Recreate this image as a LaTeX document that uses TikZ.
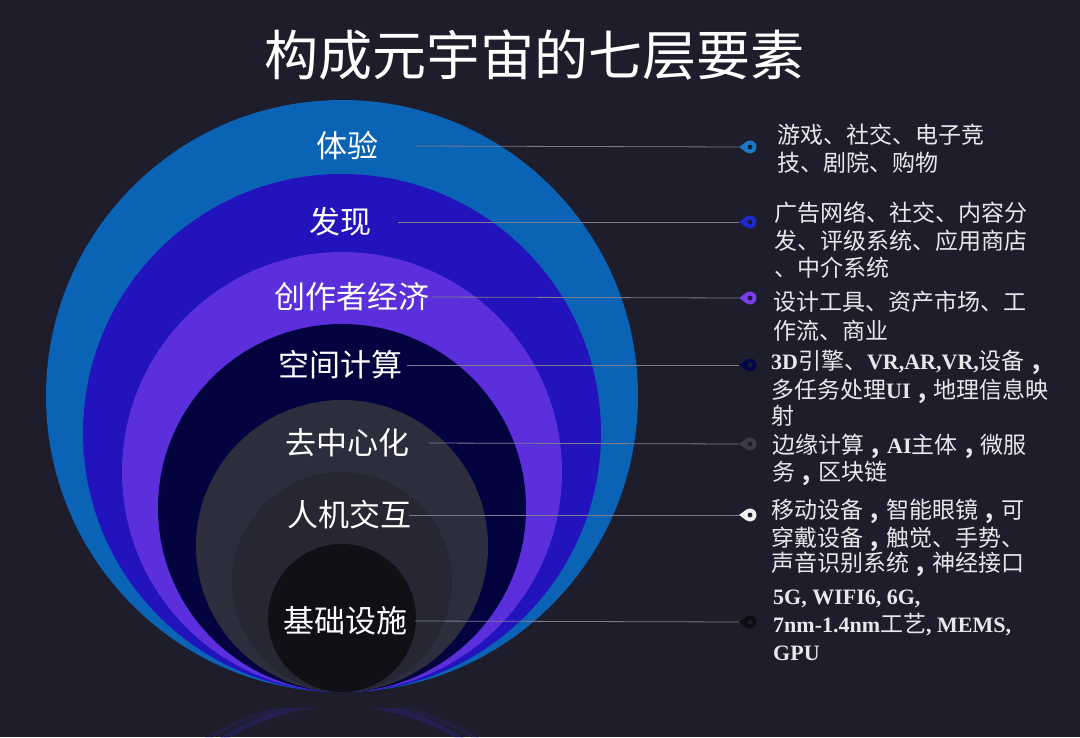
\documentclass[tikz,border=0pt]{standalone}
\usepackage{fontspec}
\setmainfont{Noto Sans CJK SC}
\newfontfamily\lserif{Liberation Serif}
\newcommand\sbf[1]{{\lserif\bfseries\fontsize{22}{28}\selectfont #1}}
\newcommand\cmm{\makebox[1em][c]{\bfseries,}}
\definecolor{bg}{HTML}{1E1D2B}
\definecolor{cA}{HTML}{0B63B5}
\definecolor{cB}{HTML}{2213BC}
\definecolor{cC}{HTML}{5B2FDC}
\definecolor{cD}{HTML}{03043F}
\definecolor{cE}{HTML}{2D2E3D}
\definecolor{cF}{HTML}{262732}
\definecolor{cG}{HTML}{101016}
\definecolor{pA}{HTML}{1A78C8}
\definecolor{pB}{HTML}{1E2AD0}
\definecolor{pC}{HTML}{7A3EE8}
\definecolor{pD}{HTML}{05064A}
\definecolor{pE}{HTML}{3A3A48}
\definecolor{pF}{HTML}{F0F0F0}
\definecolor{pG}{HTML}{0C0C12}
\definecolor{conncol}{HTML}{7C7C8E}
\definecolor{txt}{HTML}{E8E8EC}
\definecolor{refl}{HTML}{3A2CC0}
\tikzset{
  layerlabel/.style={text=white, inner sep=0pt, font=\fontsize{31}{36}\selectfont},
  righttext/.style={text=txt, inner sep=0pt, anchor=base west, font=\fontsize{23}{28}\selectfont},
  conn/.style={draw=conncol, line width=0.8pt},
  pinhole/.style={fill=bg},
}
\newcommand\mkpin[2]{%
  \fill[#2] ($(#1)+(-11,0)$) -- ($(#1)+(126.2:6.5pt)$) arc[start angle=126.2, end angle=-126.2, radius=6.5pt] -- cycle;
  \fill[pinhole] (#1) circle (2.4pt);}
\usetikzlibrary{calc}
\begin{document}
\begin{tikzpicture}[x=1pt,y=-1pt]
\fill[bg] (0,0) rectangle (1080,737);
\useasboundingbox (0,0) rectangle (1080,737);
% faint reflection
\begin{scope}
\clip (0,708) rectangle (1080,737);
\draw[line width=5pt, draw=refl, opacity=.25] (342,924) circle (220pt);
\draw[line width=4pt, draw=refl, opacity=.15] (342,960) circle (259pt);
\end{scope}
% nested layers
\fill[cA] (342,396) circle (296pt);
\fill[cB] (342,433) circle (259pt);
\fill[cC] (342,472) circle (220pt);
\fill[cD] (342,508) circle (184pt);
\fill[cE] (342,546) circle (146pt);
\fill[cF] (342,582) circle (110pt);
\fill[cG] (342,618) circle (74pt);
% title
\node[text=white, font=\fontsize{54}{60}\selectfont] (title) at (534,55) {构成元宇宙的七层要素};
% layer labels
\node[layerlabel] (l1) at (347,146) {体验};
\node[layerlabel] (l2) at (340,222) {发现};
\node[layerlabel] (l3) at (352,297) {创作者经济};
\node[layerlabel] (l4) at (340,365) {空间计算};
\node[layerlabel] (l5) at (347,443) {去中心化};
\node[layerlabel] (l6) at (349,515) {人机交互};
\node[layerlabel] (l7) at (345,621) {基础设施};
% pins
\coordinate (p1) at (750,147);
\coordinate (p2) at (750,222);
\coordinate (p3) at (750,298);
\coordinate (p4) at (750,365);
\coordinate (p5) at (750,444);
\coordinate (p6) at (750,515);
\coordinate (p7) at (750,622);
% connectors
\draw[conn] ([xshift=37pt]l1.east) -- ($(p1)+(-11,0)$);
\draw[conn] ([xshift=27pt]l2.east) -- ($(p2)+(-11,0)$);
\draw[conn] ([xshift=3pt]l3.east) -- ($(p3)+(-11,0)$);
\draw[conn] ([xshift=5pt]l4.east) -- ($(p4)+(-11,0)$);
\draw[conn] ([xshift=20pt]l5.east) -- ($(p5)+(-11,0)$);
\draw[conn] ([xshift=-2pt]l6.east) -- ($(p6)+(-11,0)$);
\draw[conn] ([xshift=8pt]l7.east) -- ($(p7)+(-11,0)$);
\mkpin{p1}{pA}
\mkpin{p2}{pB}
\mkpin{p3}{pC}
\mkpin{p4}{pD}
\mkpin{p5}{pE}
\mkpin{p6}{pF}
\mkpin{p7}{pG}
% right texts
\node[righttext] (t11) at (777,143.5) {游戏、社交、电子竞};
\node[righttext] (t12) at (777,171.5) {技、剧院、购物};
\node[righttext] (t21) at (774,221.5) {广告网络、社交、内容分};
\node[righttext] (t22) at (774,249.5) {发、评级系统、应用商店};
\node[righttext] (t23) at (774,276.5) {、中介系统};
\node[righttext] (t31) at (773,310.5) {设计工具、资产市场、工};
\node[righttext] (t32) at (773,339.5) {作流、商业};
\node[righttext] (t41) at (771,369.5) {\sbf{3D}引擎、\sbf{VR,AR,VR,}设备\cmm};
\node[righttext] (t42) at (771,398.5) {多任务处理\sbf{UI}\cmm 地理信息映};
\node[righttext] (t43) at (771,424.5) {射};
\node[righttext] (t51) at (772,453.5) {边缘计算\cmm\sbf{AI}主体\cmm 微服};
\node[righttext] (t52) at (772,480.5) {务\cmm 区块链};
\node[righttext] (t61) at (771,518.5) {移动设备\cmm 智能眼镜\cmm 可};
\node[righttext] (t62) at (771,546.5) {穿戴设备\cmm 触觉、手势、};
\node[righttext] (t63) at (771,571.5) {声音识别系统\cmm 神经接口};
\node[righttext] (t71) at (773,604) {\sbf{5G, WIFI6, 6G,}};
\node[righttext] (t72) at (773,632) {\sbf{7nm-1.4nm}工艺\sbf{, MEMS,}};
\node[righttext] (t73) at (773,660) {\sbf{GPU}};
\end{tikzpicture}
\end{document}
